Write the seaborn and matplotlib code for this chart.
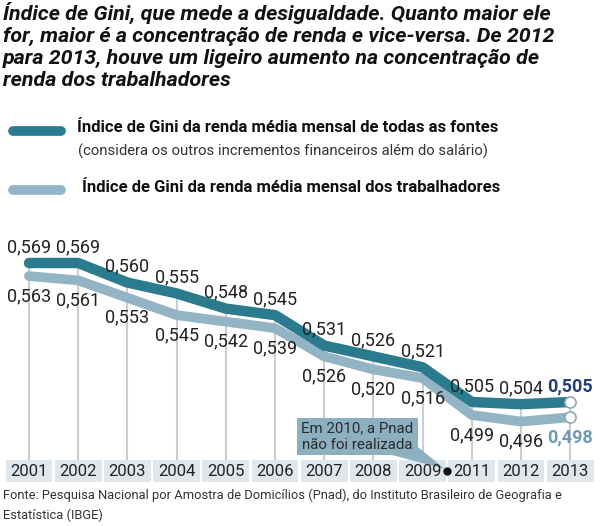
import numpy as np
import pandas as pd
import matplotlib
matplotlib.use("Agg")
import matplotlib.pyplot as plt
import seaborn as sns
from matplotlib import font_manager
from matplotlib.patches import Rectangle, Polygon

# ---- data ----
anos = ["2001", "2002", "2003", "2004", "2005", "2006", "2007", "2008", "2009", "2011", "2012", "2013"]
gini_todas_fontes = [0.569, 0.569, 0.560, 0.555, 0.548, 0.545, 0.531, 0.526, 0.521, 0.505, 0.504, 0.505]
gini_trabalhadores = [0.563, 0.561, 0.553, 0.545, 0.542, 0.539, 0.526, 0.520, 0.516, 0.499, 0.496, 0.498]
serie_nomes = ["Índice de Gini da renda média mensal de todas as fontes",
               "Índice de Gini da renda média mensal dos trabalhadores"]
titulo = ("Índice de Gini, que mede a desigualdade. Quanto maior ele\n"
          "for, maior é a concentração de renda e vice-versa. De 2012\n"
          "para 2013, houve um ligeiro aumento na concentração de\n"
          "renda dos trabalhadores")
legenda_sub = "(considera os outros incrementos financeiros além do salário)"
nota = "Em 2010, a Pnad\nnão foi realizada"
fonte = ("Fonte: Pesquisa Nacional por Amostra de Domicílios (Pnad), do Instituto Brasileiro de Geografia e\n"
         "Estatística (IBGE)")

pos = list(range(len(anos)))
df = pd.DataFrame({
    "pos": pos * 2,
    "valor": gini_todas_fontes + gini_trabalhadores,
    "serie": [serie_nomes[0]] * len(anos) + [serie_nomes[1]] * len(anos),
})

sns.set_theme(style="white")
names = {f.name for f in font_manager.fontManager.ttflist}
narrow = "Liberation Sans Narrow" if "Liberation Sans Narrow" in names else "Roboto"
plt.rcParams["font.family"] = [narrow, "DejaVu Sans"]

C_TOP = "#2b7b8e"
C_LOW = "#93b4c4"
C_BAND = "#dfe7ec"
C_GRID = "#c6d0d5"
C_TXT = "#222222"

W, H = 600, 526
fig = plt.figure(figsize=(W / 100, H / 100), dpi=100)
fig.patch.set_facecolor("white")

def fy(p):
    return 1 - p / H

# axes covering the chart area
ax = fig.add_axes([0, fy(484), 1, fy(225) - fy(484)])
ax.set_facecolor("white")
x0, dx = 29.0, 49.2
ax.set_xlim(-x0 / dx, (W - x0) / dx)
def v(p):
    return 0.569 - (p - 263) / 2172.0
ax.set_ylim(v(484), v(225))
ax.axis("off")

band_top, band_bot = v(460), v(482)

# vertical guide lines
ax.vlines(pos, band_top, gini_todas_fontes, color=C_GRID, lw=1.5, zorder=1)

# lines via seaborn
sns.lineplot(data=df, x="pos", y="valor", hue="serie", palette=[C_TOP, C_LOW],
             hue_order=serie_nomes, linewidth=7.5, ax=ax,
             legend=False, sort=False, zorder=3)
lines = ax.get_lines()
for ln in lines:
    ln.set_solid_capstyle("round")
    ln.set_solid_joinstyle("round")
if len(lines) >= 2:
    lines[0].set_zorder(4)
    lines[1].set_zorder(3)
    lines[1].set_linewidth(7)

# end markers
ax.plot([pos[-1]], [gini_todas_fontes[-1]], "o", ms=8, mfc="white", mec="#8fa9b5", mew=1.2, zorder=6)
ax.plot([pos[-1]], [gini_trabalhadores[-1]], "o", ms=8, mfc="white", mec="#8fa9b5", mew=1.2, zorder=6)

# value labels
fmt = lambda x: f"{x:.3f}".replace(".", ",")
for i, (a, b) in enumerate(zip(gini_todas_fontes, gini_trabalhadores)):
    last = i == len(anos) - 1
    ax.annotate(fmt(a), (i, a), xytext=(0, 16), textcoords="offset pixels",
                ha="center", va="center", fontsize=13,
                color="#233f78" if last else C_TXT,
                fontweight="bold" if last else "normal", zorder=7)
    ax.annotate(fmt(b), (i, b), xytext=(0, -20), textcoords="offset pixels",
                ha="center", va="center", fontsize=13,
                color="#6f9ab3" if last else C_TXT,
                fontweight="bold" if last else "normal", zorder=7)

# year band
for i, ano in enumerate(anos):
    ax.add_patch(Rectangle((i - 0.475, band_bot), 0.95, band_top - band_bot,
                           facecolor=C_BAND, edgecolor="none", zorder=2))
    ax.text(i, (band_top + band_bot) / 2, ano, ha="center", va="center",
            fontsize=12, color=C_TXT, zorder=6)

# gap marker for 2010
gap = 8.5
ax.plot([gap], [v(471)], "o", ms=5, color="#111111", zorder=7)

# note box
bx0, bx1 = (297 - x0) / dx, (418 - x0) / dx
ax.add_patch(Rectangle((bx0, v(455)), bx1 - bx0, v(418) - v(455),
                       facecolor="#8db0c1", edgecolor="none", zorder=5))
ax.add_patch(Polygon([((392 - x0) / dx, v(455)), (bx1, v(447)), (gap - 0.05, v(469))],
                     closed=True, facecolor="#8db0c1", edgecolor="none", zorder=5))
ax.text((bx0 + bx1) / 2, (v(455) + v(418)) / 2, nota, ha="center", va="center",
        fontsize=10.8, color="#2a2a2a", linespacing=1.25, zorder=6)

# title
fig.text(3 / W, fy(2), titulo, ha="left", va="top", fontsize=15.4,
         fontweight="bold", fontstyle="italic", color="#111111", linespacing=1.2)

# legend
fig.add_artist(plt.Line2D([13 / W, 61 / W], [fy(131), fy(131)], color=C_TOP, lw=7,
                          solid_capstyle="round"))
fig.text(77 / W, fy(127), serie_nomes[0], ha="left", va="center", fontsize=12,
         fontweight="bold", color="#111111")
fig.text(78 / W, fy(151), legenda_sub, ha="left", va="center", fontsize=10.7, color="#333333")
fig.add_artist(plt.Line2D([13 / W, 61 / W], [fy(190), fy(190)], color=C_LOW, lw=7,
                          solid_capstyle="round"))
fig.text(82 / W, fy(187), serie_nomes[1], ha="left", va="center", fontsize=12,
         fontweight="bold", color="#111111")

# source
fig.text(3 / W, fy(489), fonte, ha="left", va="top", fontsize=9.3, color="#333333",
         linespacing=1.55)

fig.savefig("out.png", dpi=100, facecolor="white")
